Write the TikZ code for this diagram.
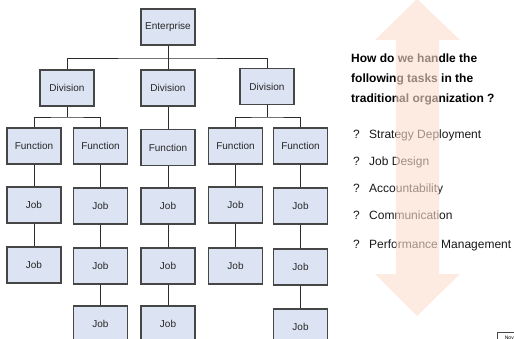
\documentclass[tikz,border=0pt]{standalone}
\usepackage{fontspec}
\setmainfont{Liberation Sans}
\definecolor{boxfill}{RGB}{220,228,243}
\definecolor{boxline}{RGB}{70,70,70}
\definecolor{linegray}{RGB}{45,45,45}
\definecolor{arrowpeach}{RGB}{252,222,205}
\begin{document}
\begin{tikzpicture}[x=1pt,y=-1pt,
  box/.style={draw=boxline, fill=boxfill, line width=1.1pt, minimum width=54pt, minimum height=36pt, inner sep=0pt, font=\fontsize{10}{12}\selectfont, text=black!85},
  link/.style={draw=linegray, line width=0.9pt},
  head/.style={anchor=base west, inner sep=0pt, font=\bfseries\fontsize{12}{14}\selectfont},
  qmark/.style={anchor=base west, inner sep=0pt, font=\fontsize{12}{14}\selectfont, text=black!90},
  item/.style={anchor=base west, inner sep=0pt, font=\fontsize{12}{14}\selectfont, text=black!90}]
\useasboundingbox (0,0) rectangle (514,339);
\clip (0,0) rectangle (514,339);
\fill[white] (0,0) rectangle (514,339);
% tree
\node[box] (ent) at (168,27) {Enterprise};
\node[box] (d1) at (67,88) {Division};
\node[box] (d2) at (168,88) {Division};
\node[box] (d3) at (267,86.5) {Division};
\node[box] (f1) at (34,146) {Function};
\node[box] (f2) at (100.5,146) {Function};
\node[box] (f3) at (168,147.5) {Function};
\node[box] (f4) at (235.5,146) {Function};
\node[box] (f5) at (300.5,146) {Function};
\node[box] (j11) at (34,205) {Job};
\node[box] (j12) at (34,265) {Job};
\node[box] (j21) at (100.5,206) {Job};
\node[box] (j22) at (100.5,266) {Job};
\node[box] (j23) at (100.5,324) {Job};
\node[box] (j31) at (168,206) {Job};
\node[box] (j32) at (168,266) {Job};
\node[box] (j33) at (168,324) {Job};
\node[box] (j41) at (235.5,205) {Job};
\node[box] (j42) at (235.5,266) {Job};
\node[box] (j51) at (300.5,206) {Job};
\node[box] (j52) at (300.5,267) {Job};
\node[box] (j53) at (300.5,327) {Job};
\coordinate (b0) at (168,58);
\coordinate (b1) at (67,117);
\coordinate (b3) at (267,117);
\draw[link] (ent) -- (d2);
\draw[link] (d1) |- (b0) -| (d3);
\draw[link] (d1) -- (b1);
\draw[link] (f1) |- (b1) -| (f2);
\draw[link] (d3) -- (b3);
\draw[link] (f4) |- (b3) -| (f5);
\draw[link] (d2) -- (f3);
\draw[link] (f1) -- (j11) -- (j12);
\draw[link] (f2) -- (j21) -- (j22) -- (j23);
\draw[link] (f3) -- (j31) -- (j32) -- (j33);
\draw[link] (f4) -- (j41) -- (j42);
\draw[link] (f5) -- (j51) -- (j52) -- (j53);
% text
\node[head] (h1) at (351,63) {How do we handle the};
\node[head] (h2) at (351,83) {following tasks in the};
\node[head] (h3) at (351,103) {traditional organization ?};
\node[qmark] (q1) at (353,139) {?};
\node[item] (t1) at (369,139) {Strategy Deployment};
\node[qmark] (q2) at (353,166) {?};
\node[item] (t2) at (369,166) {Job Design};
\node[qmark] (q3) at (353,193) {?};
\node[item] (t3) at (369,193) {Accountability};
\node[qmark] (q4) at (353,220) {?};
\node[item] (t4) at (369,220) {Communication};
\node[qmark] (q5) at (353,248) {?};
\node[item] (t5) at (369,248) {Performance Management};
% small box
\node[draw=boxline, fill=white, line width=0.6pt, anchor=north west, minimum width=24pt, minimum height=10pt, inner sep=1pt, font=\fontsize{5}{6}\selectfont, text depth=0pt] (nov) at (497,332) {Nov};
% double arrow
\fill[arrowpeach, fill opacity=0.6] (417,-1) -- (460,40) -- (439,40) -- (439,274) -- (460,274) -- (417,316) -- (375,274) -- (396,274) -- (396,40) -- (375,40) -- cycle;
\end{tikzpicture}
\end{document}
